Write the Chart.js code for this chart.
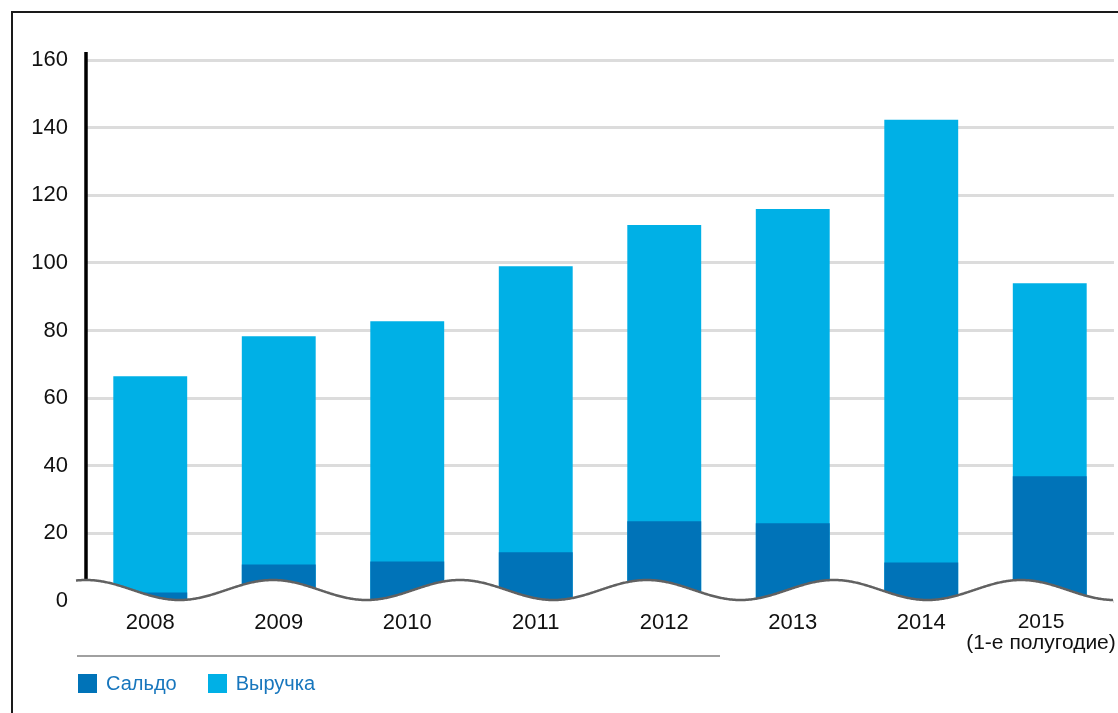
<!DOCTYPE html>
<html>
<head>
<meta charset="utf-8">
<script src="https://cdn.jsdelivr.net/npm/chart.js@4"></script>
<style>
  html, body { margin: 0; padding: 0; background: #fff; }
  .wrap { position: relative; width: 1118px; height: 713px; }
  .legend { position: absolute; left: 78px; top: 672px; display: flex; font-family: "Liberation Sans", Arial, sans-serif; font-size: 20px; color: #1776bd; }
  .legend span { display: flex; align-items: center; margin-right: 31px; }
  .legend i { display: inline-block; width: 19px; height: 19px; margin-right: 9px; }
</style>
</head>
<body>
<div class="wrap">
  <canvas id="chart"></canvas>
  <div class="legend">
    <span><i style="background:#0073b8"></i>Сальдо</span>
    <span><i style="background:#00b0e6"></i>Выручка</span>
  </div>
</div>
<script>
// ===== Data =====
const years = ["2008", "2009", "2010", "2011", "2012", "2013", "2014", ["2015", "(1-е полугодие)"]];
const saldo = [2.5, 10.8, 11.7, 14.4, 23.6, 23, 11.4, 36.9];
const revenue = [66.5, 78.3, 82.7, 99, 111.2, 115.9, 142.3, 94];
const yMin = 0, yMax = 160, yStep = 20;

const FONT = '"Liberation Sans", Arial, sans-serif';
const LAST = years.length - 1;

// ===== Frame, axis line, wavy break, separator =====
const decor = {
  id: "decor",
  afterDatasetsDraw(chart) {
    const { ctx, chartArea: a } = chart;
    const y = chart.scales.y;
    ctx.save();
    // y axis line
    ctx.strokeStyle = "#000";
    ctx.lineWidth = 3.5;
    ctx.beginPath();
    ctx.moveTo(a.left, y.getPixelForValue(yMax) - 8);
    ctx.lineTo(a.left, a.bottom - 5);
    ctx.stroke();

    // wavy axis break
    const mid = a.bottom - 11, amp = 10, period = 187;
    const x0 = a.left - 10, x1 = a.right - 1;
    const waveY = (x) => mid - amp * Math.cos((2 * Math.PI * (x - a.left)) / period);
    ctx.beginPath();
    ctx.moveTo(x0, waveY(x0));
    for (let x = x0; x <= x1; x++) ctx.lineTo(x, waveY(x));
    ctx.lineTo(x1, a.bottom + 3);
    ctx.lineTo(x0, a.bottom + 3);
    ctx.closePath();
    ctx.fillStyle = "#fff";
    ctx.fill();
    ctx.beginPath();
    ctx.moveTo(x0, waveY(x0));
    for (let x = x0; x <= x1; x++) ctx.lineTo(x, waveY(x));
    ctx.strokeStyle = "#616161";
    ctx.lineWidth = 2.5;
    ctx.stroke();

    // separator above legend
    ctx.strokeStyle = "#808080";
    ctx.lineWidth = 1.5;
    ctx.beginPath();
    ctx.moveTo(77, 656);
    ctx.lineTo(720, 656);
    ctx.stroke();

    // frame
    ctx.strokeStyle = "#1a1a1a";
    ctx.lineWidth = 2;
    ctx.beginPath();
    ctx.moveTo(12, chart.height);
    ctx.lineTo(12, 12);
    ctx.lineTo(chart.width, 12);
    ctx.stroke();
    ctx.restore();
  },
};

document.addEventListener("DOMContentLoaded", () => {
  const ctx = document.getElementById("chart").getContext("2d");
  new Chart(ctx, {
    type: "bar",
    data: {
      labels: years,
      datasets: [
        { label: "Сальдо", data: saldo, backgroundColor: "#0073b8" },
        { label: "Выручка", data: revenue, backgroundColor: "#00b0e6" },
      ],
    },
    options: {
      responsive: true,
      maintainAspectRatio: false,
      animation: false,
      barPercentage: 0.575,
      categoryPercentage: 1,
      layout: { padding: { top: 60, right: 4, left: 0, bottom: 0 } },
      plugins: {
        legend: { display: false },
        tooltip: { enabled: false },
      },
      scales: {
        x: {
          stacked: true,
          grid: { display: false, drawTicks: false },
          border: { display: false },
          ticks: {
            color: "#111",
            padding: 11,
            autoSkip: false,
            maxRotation: 0,
            // last label sits a bit left of its bar so it stays inside the frame
            callback: (v, i) => {
              const l = years[i];
              return i === LAST ? l.map((s) => s + "\u00a0\u00a0\u00a0") : l;
            },
            font: (c) => ({ family: FONT, size: c.index === LAST ? 21 : 22, lineHeight: 1 }),
          },
          afterFit: (s) => { s.height = 112; s.paddingLeft = 0; s.paddingRight = 0; },
        },
        y: {
          stacked: false,
          min: yMin,
          max: yMax,
          grid: { color: "#dcdcdc", lineWidth: 3, drawTicks: false },
          border: { display: false },
          ticks: {
            stepSize: yStep,
            color: "#111",
            padding: 18,
            font: { family: FONT, size: 22 },
          },
          afterFit: (s) => { s.width = 86; s.paddingTop = 0; s.paddingBottom = 0; },
        },
      },
    },
    plugins: [decor],
  });
});
</script>
</body>
</html>
